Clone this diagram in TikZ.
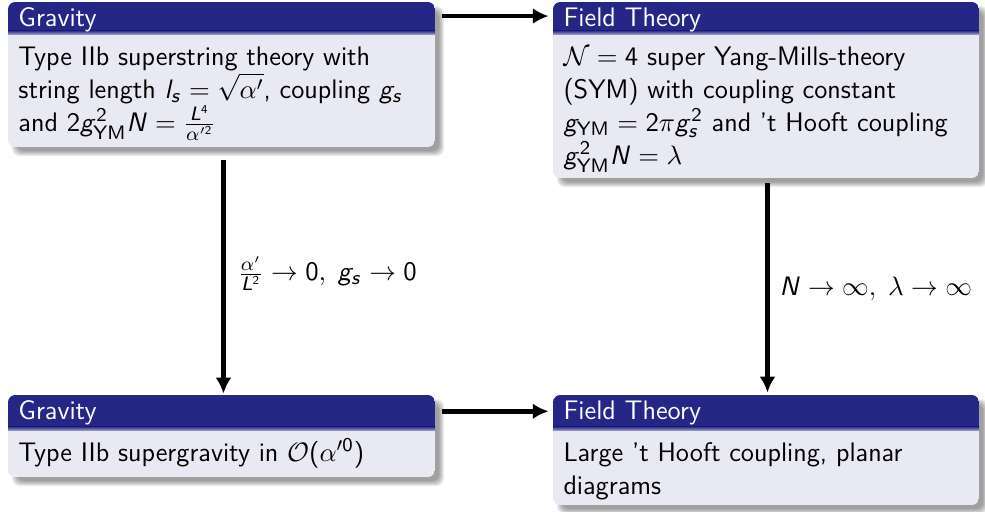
\documentclass[tikz,border=0pt]{standalone}
\usetikzlibrary{arrows.meta,fit}
\DeclareSymbolFont{sfitalic}{OT1}{cmss}{m}{sl}
\SetSymbolFont{operators}{normal}{OT1}{cmss}{m}{n}
\DeclareMathSymbol{l}{\mathalpha}{sfitalic}{`l}
\DeclareMathSymbol{s}{\mathalpha}{sfitalic}{`s}
\DeclareMathSymbol{g}{\mathalpha}{sfitalic}{`g}
\DeclareMathSymbol{N}{\mathalpha}{sfitalic}{`N}
\DeclareMathSymbol{L}{\mathalpha}{sfitalic}{`L}
\definecolor{titlec}{RGB}{38,38,134}
\definecolor{bodyc}{RGB}{233,233,243}
\newcommand\myblk[8]{%
  % #1 name #2 x1 #3 y1 #4 x2 #5 ytitle #6 y2 #7 title #8 body
  \foreach \d in {0,...,5}{
    \fill[black,opacity=0.075,rounded corners=3pt] (#2+9-\d,#3+9-\d) rectangle (#4+4+\d,#6+4+\d);
  }
  \begin{scope}
    \clip[rounded corners=3pt] (#2,#3) rectangle (#4,#6);
    \fill[bodyc] (#2,#3) rectangle (#4,#6);
    \fill[titlec] (#2,#3) rectangle (#4,#5-2);
    \shade[top color=titlec, bottom color=titlec!45!bodyc] (#2,#5-2.5) rectangle (#4,#5+1);
  \end{scope}
  \node[fit={(#2,#3) (#4,#6)}, inner sep=0pt] (#1) {};
  \node[fit={(#2,#3) (#4,#5)}, inner sep=0pt] (#1t) {};
  \node[anchor=base west, inner sep=0pt, text=white, blocktext] (#1tt) at (#2+10,#3+24) {#7};
  \node[anchor=base west, inner sep=0pt, blocktext] (#1b) at (#2+10,#5+32) {\parbox[t]{170pt}{\raggedright #8}};
}
\tikzset{
  blocktext/.style={font=\fontsize{11}{13.6}\selectfont\sffamily},
  arr/.style={line width=1.9pt, -{Latex[length=6.5pt,width=6.5pt]}},
  lbl/.style={font=\fontsize{11}{13.6}\selectfont\sffamily, right, midway}
}
\begin{document}
\begin{tikzpicture}[x=0.41pt,y=-0.41pt]
\useasboundingbox (0,0) rectangle (985,511);
\myblk{g1}{8}{2}{435}{33}{147}{Gravity}{Type IIb superstring theory with\\ string length $l_s=\sqrt{\alpha'}$, coupling $g_s$\\ and $2g_{\mathsf{YM}}^2N=\frac{L^4}{\alpha'^2}$}
\myblk{f1}{553}{2}{979}{33}{178}{Field Theory}{$\mathcal{N}=4$ super Yang-Mills-theory\\ (SYM) with coupling constant\\ $g_{\mathsf{YM}}=2\pi g_s^2$ and 't Hooft coupling\\ $g_{\mathsf{YM}}^2N=\lambda$}
\myblk{g2}{8}{395}{435}{429}{477}{Gravity}{Type IIb supergravity in $\mathcal{O}(\alpha'^0)$}
\myblk{f2}{553}{395}{979}{429}{505}{Field Theory}{Large 't Hooft coupling, planar\\ diagrams}
\draw[arr, shorten <=2.5pt, shorten >=1.6pt] ([yshift=0.6pt]g1t.east) -- ([yshift=0.6pt]f1t.west);
\draw[arr, shorten <=2.5pt, shorten >=1.6pt] ([yshift=0.3pt]g2t.east) -- ([yshift=0.3pt]f2t.west);
\draw[arr, shorten <=5.3pt, shorten >=0.4pt] ([xshift=0.8pt]g1.south) -- node[lbl, inner sep=5pt, yshift=-1pt]{$\frac{\alpha'}{L^2}\rightarrow 0,\;g_s\rightarrow 0$} ([xshift=0.8pt]g2.north);
\draw[arr, shorten <=2pt, shorten >=0.8pt] ([xshift=0.6pt]f1.south) -- node[lbl, inner sep=4pt, yshift=-1pt]{$N\rightarrow\infty,\;\lambda\rightarrow\infty$} ([xshift=0.6pt]f2.north);
\end{tikzpicture}
\end{document}
